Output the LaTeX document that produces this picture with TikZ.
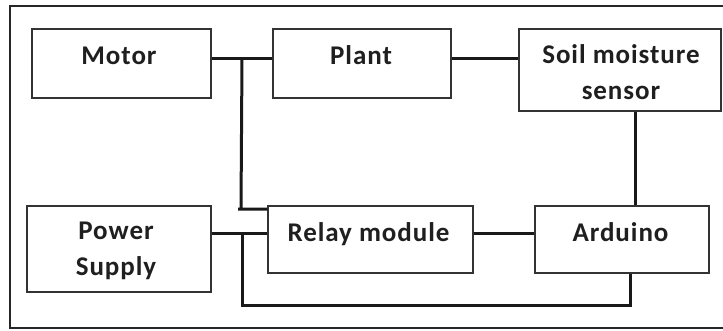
\documentclass[tikz,border=0pt]{standalone}
\usepackage{fontspec}
\setmainfont{Carlito}[LetterSpace=3.5]
\begin{document}
\begin{tikzpicture}[x=1pt,y=-1pt,
  box/.style={draw=black!80, line width=1.4pt, inner sep=0pt},
  wire/.style={line width=3pt, black!90},
  lbl/.style={font=\bfseries\fontsize{27}{30}\selectfont, anchor=base, inner sep=0pt, text=black!88}]
\clip (0,0) rectangle (723,330);
\fill[white] (0,0) rectangle (723,330);
\draw[line width=2.2pt, black!85] (10,6) rectangle (760,328);
% boxes
\node[box, minimum width=179pt, minimum height=69pt] (motor) at (121.5,63.5) {};
\node[box, minimum width=178pt, minimum height=69pt] (plant) at (362,63.5) {};
\node[box, minimum width=202pt, minimum height=82pt] (soil) at (620,70) {};
\node[box, minimum width=184pt, minimum height=86pt] (power) at (119,249) {};
\node[box, minimum width=205pt, minimum height=67pt] (relay) at (370.5,239.5) {};
\node[box, minimum width=174pt, minimum height=67pt] (arduino) at (622,239.5) {};
% labels
\node[lbl] (tmotor) at (119,64) {Motor};
\node[lbl] (tplant) at (361,64) {Plant};
\node[lbl] (tsoil1) at (621,63) {Soil moisture};
\node[lbl] (tsoil2) at (621,99) {sensor};
\node[lbl] (tpower1) at (116,239) {Power};
\node[lbl] (tpower2) at (116,275) {Supply};
\node[lbl] (trelay) at (368.5,241) {Relay module};
\node[lbl] (tard) at (620.5,241) {Arduino};
% junction coordinates
\coordinate (j1) at (242,58);
\coordinate (k1) at (241,209);
\coordinate (j3) at (242,233);
\coordinate (c1) at (242,305);
\coordinate (c2) at (630,305);
\coordinate (v1) at (635,150);
% wires
\draw[wire] (j1 -| motor.east) -- (j1 -| plant.west);
\draw[wire] (j1) -- (k1) -- ([xshift=-3pt]k1) -- (k1 -| relay.west);
\draw[wire] (j1 -| plant.east) -- (j1 -| soil.west);
\draw[wire] (v1 |- soil.south) -- (v1 |- arduino.north);
\draw[wire] (j3 -| power.east) -- (j3 -| relay.west);
\draw[wire] (j3) -- (c1) -- (c2) -- (c2 |- arduino.south);
\draw[wire] (j3 -| relay.east) -- (j3 -| arduino.west);
\end{tikzpicture}
\end{document}
